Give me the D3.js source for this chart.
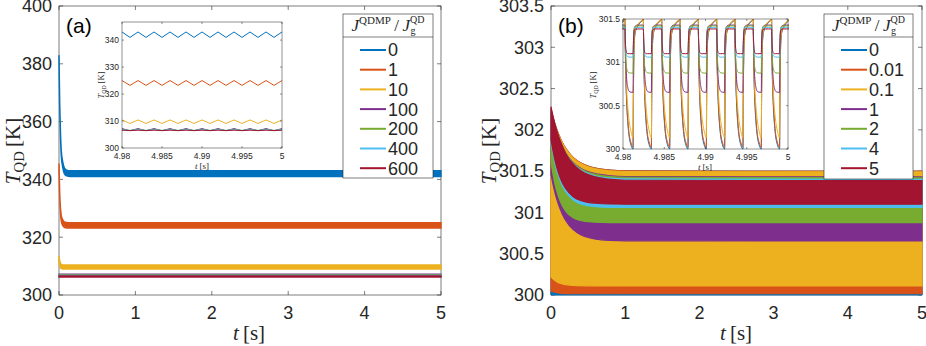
<!DOCTYPE html>
<html><head><meta charset="utf-8">
<script src="https://cdn.jsdelivr.net/npm/d3@7"></script>
<style>body{margin:0;background:#fff}svg{display:block}</style>
</head><body><svg id="c" width="926" height="346"></svg>
<script>
// ---------------- DATA ----------------
const seriesA = ["0","1","10","100","200","400","600"];
const seriesB = ["0","0.01","0.1","1","2","4","5"];
const xTicksMain = [0,1,2,3,4,5];
const yTicksA = [300,320,340,360,380,400];
const yTicksB = [300,300.5,301,301.5,302,302.5,303,303.5];
const xTicksInset = [4.98,4.985,4.99,4.995,5];
const xTickLabelsInset = ["4.98","4.985","4.99","4.995","5"];
const yTicksInsetA = [300,310,320,330,340];
const yTicksInsetB = [300,300.5,301,301.5];

// panel (a) main: envelope (min / max) of the fast oscillation
const tA = [0,0.01,0.02,0.03,0.05,0.07,0.1,0.15,5];
const aUpper = [
  [383,366,356,350,346,344,343.2,343,343],
  [345.5,335,330,327.5,326,325.3,325.1,325,325],
  [313.5,311.8,311,310.6,310.4,310.4,310.4,310.4,310.4],
  [307.2,307.2,307.2,307.2,307.2,307.2,307.2,307.2,307.2],
  [306.9,306.9,306.9,306.9,306.9,306.9,306.9,306.9,306.9],
  [306.8,306.8,306.8,306.8,306.8,306.8,306.8,306.8,306.8],
  [306.6,306.6,306.6,306.6,306.6,306.6,306.6,306.6,306.6]
];
const aLower = [
  [381,364,354,348,344,342,341.2,341,341],
  [343.5,333,328,325.5,324,323.4,323.2,323.2,323.2],
  [311.5,310,309.4,309.1,309,309,309,309,309],
  [306.5,306.5,306.5,306.5,306.5,306.5,306.5,306.5,306.5],
  [306.5,306.5,306.5,306.5,306.5,306.5,306.5,306.5,306.5],
  [306.5,306.5,306.5,306.5,306.5,306.5,306.5,306.5,306.5],
  [306.2,306.2,306.2,306.2,306.2,306.2,306.2,306.2,306.2]
];

// panel (a) inset: zig-zag vertices
const insetATimes = [4.980,4.981,4.982,4.983,4.984,4.985,4.986,4.987,4.988,4.989,4.990,4.991,4.992,4.993,4.994,4.995,4.996,4.997,4.998,4.999,5.000];
const insetAValues = [
  [343,341,343,341,343,341,343,341,343,341,343,341,343,341,343,341,343,341,343,341,343],
  [325,323.2,325,323.2,325,323.2,325,323.2,325,323.2,325,323.2,325,323.2,325,323.2,325,323.2,325,323.2,325],
  [310.4,309.1,310.4,309.1,310.4,309.1,310.4,309.1,310.4,309.1,310.4,309.1,310.4,309.1,310.4,309.1,310.4,309.1,310.4,309.1,310.4],
  [307.2,306.4,307.2,306.4,307.2,306.4,307.2,306.4,307.2,306.4,307.2,306.4,307.2,306.4,307.2,306.4,307.2,306.4,307.2,306.4,307.2],
  [306.9,306.5,306.9,306.5,306.9,306.5,306.9,306.5,306.9,306.5,306.9,306.5,306.9,306.5,306.9,306.5,306.9,306.5,306.9,306.5,306.9],
  [306.8,306.5,306.8,306.5,306.8,306.5,306.8,306.5,306.8,306.5,306.8,306.5,306.8,306.5,306.8,306.5,306.8,306.5,306.8,306.5,306.8],
  [306.6,306.45,306.6,306.45,306.6,306.45,306.6,306.45,306.6,306.45,306.6,306.45,306.6,306.45,306.6,306.45,306.6,306.45,306.6,306.45,306.6]
];

// panel (b) main: envelope (min / max)
const tB = [0,0.05,0.1,0.15,0.2,0.3,0.4,0.5,0.6,0.8,1.0,5];
const bUpper = [
  [302.25,302.084,301.955,301.854,301.776,301.667,301.601,301.562,301.538,301.514,301.505,301.5],
  [302.25,302.084,301.955,301.854,301.776,301.667,301.601,301.562,301.538,301.514,301.505,301.5],
  [302.24,302.074,301.945,301.844,301.766,301.657,301.591,301.552,301.528,301.504,301.495,301.49],
  [302.21,302.038,301.903,301.798,301.717,301.604,301.535,301.494,301.469,301.444,301.435,301.43],
  [302.22,302.043,301.906,301.798,301.714,301.598,301.528,301.486,301.46,301.434,301.426,301.42],
  [302.25,302.06,301.92,301.80,301.71,301.59,301.515,301.47,301.44,301.415,301.406,301.40],
  [302.28,302.08,301.93,301.81,301.71,301.585,301.506,301.458,301.43,301.40,301.39,301.385]
];
const bLower = [
  [300.0,300.0,300.0,300.0,300.0,300.0,300.0,300.0,300.0,300.0,300.0,300.0],
  [300.05,300.035,300.025,300.02,300.017,300.015,300.015,300.015,300.015,300.015,300.015,300.015],
  [300.22,300.177,300.15,300.135,300.125,300.116,300.112,300.111,300.11,300.11,300.11,300.11],
  [301.454,301.25,301.098,300.985,300.90,300.791,300.73,300.696,300.677,300.661,300.656,300.654],
  [301.606,301.357,301.194,301.086,301.014,300.936,300.902,300.887,300.881,300.877,300.876,300.876],
  [301.84,301.606,301.442,301.325,301.247,301.151,301.104,301.082,301.071,301.062,301.06,301.06],
  [301.88,301.646,301.48,301.365,301.287,301.19,301.144,301.122,301.111,301.102,301.10,301.10]
];

// panel (b) inset: fall instants of each pulse [s] and one pulse profile per series
const insetBFalls = [4.97803,4.98025,4.98247,4.98469,4.98691,4.98913,4.99135,4.99357,4.99579,4.99801];
const insetBOffsetsMs = [0,0.03,0.1,0.2,0.35,0.5,0.7,0.97,1.01,1.06,1.13,1.25,1.5,1.85,2.17];
const insetBProfiles = [
  [301.50,301.15,300.80,300.52,300.28,300.14,300.05,300.00,300.60,301.02,301.25,301.35,301.41,301.46,301.49],
  [301.50,301.18,300.84,300.56,300.32,300.17,300.08,300.02,300.62,301.04,301.27,301.36,301.42,301.47,301.49],
  [301.49,301.22,300.92,300.68,300.46,300.32,300.21,300.13,300.72,301.10,301.30,301.37,301.43,301.47,301.49],
  [301.43,301.22,300.98,300.80,300.70,300.665,300.656,300.654,301.05,301.30,301.39,301.42,301.43,301.43,301.43],
  [301.42,301.24,301.04,300.93,300.89,300.879,300.876,300.876,301.15,301.34,301.40,301.415,301.42,301.42,301.42],
  [301.40,301.26,301.13,301.08,301.064,301.06,301.06,301.06,301.22,301.35,301.39,301.40,301.40,301.40,301.40],
  [301.385,301.27,301.15,301.11,301.10,301.10,301.10,301.10,301.22,301.33,301.375,301.383,301.385,301.385,301.385]
];

// ---------------- STYLE ----------------
const colors = ["#0072BD","#D95319","#EDB120","#7E2F8E","#77AC30","#4DBEEE","#A2142F"];
const ink = "#262626";
const sans = "'Liberation Sans',Arial,Helvetica,sans-serif";
const serif = "'Liberation Serif','Times New Roman',serif";

const svg = d3.select("#c");
svg.append("rect").attr("width",926).attr("height",346).attr("fill","#fff");

function frame(g, x, y, xt, xl, yt, yl, o){
  const [x0,x1]=x.range(), [yb,yt0]=y.range();
  g.append("rect").attr("x",x0).attr("y",yt0).attr("width",x1-x0).attr("height",yb-yt0)
    .attr("fill","none").attr("stroke",ink).attr("stroke-width",o.sw);
  const tk = g.append("g").attr("stroke",ink).attr("stroke-width",o.sw);
  xt.forEach(v=>{
    tk.append("line").attr("x1",x(v)).attr("x2",x(v)).attr("y1",yb).attr("y2",yb-o.tl);
    tk.append("line").attr("x1",x(v)).attr("x2",x(v)).attr("y1",yt0).attr("y2",yt0+o.tl);
  });
  yt.forEach(v=>{
    tk.append("line").attr("x1",x0).attr("x2",x0+o.tl).attr("y1",y(v)).attr("y2",y(v));
    tk.append("line").attr("x1",x1).attr("x2",x1-o.tl).attr("y1",y(v)).attr("y2",y(v));
  });
  const lab = g.append("g").attr("font-family",sans).attr("font-size",o.fs).attr("fill",ink);
  xt.forEach((v,i)=>lab.append("text").attr("x",x(v)).attr("y",yb+o.xoff).attr("text-anchor","middle").text(xl[i]));
  yt.forEach((v,i)=>lab.append("text").attr("x",x0-o.yoff).attr("y",y(v)).attr("dy","0.35em").attr("text-anchor","end").text(yl[i]));
}
function yLabel(g, x, y, size){
  const t=g.append("text").attr("transform",`translate(${x},${y}) rotate(-90)`).attr("text-anchor","middle")
    .attr("font-family",serif).attr("font-size",size).attr("fill",ink);
  t.append("tspan").attr("font-style","italic").text("T");
  t.append("tspan").attr("font-size",size*0.7).attr("dy",size*0.2).text("QD");
  t.append("tspan").attr("dy",-size*0.2).text("\u2009[K]");
}
function xLabel(g, x, y, size){
  const t=g.append("text").attr("x",x).attr("y",y).attr("text-anchor","middle")
    .attr("font-family",serif).attr("font-size",size).attr("fill",ink);
  t.append("tspan").attr("font-style","italic").text("t");
  t.append("tspan").text("\u2009[s]");
}
function legend(g, x0, y0, w, h, names){
  g.append("rect").attr("x",x0).attr("y",y0).attr("width",w).attr("height",h)
    .attr("fill","#fff").attr("stroke",ink).attr("stroke-width",0.6);
  g.append("line").attr("x1",x0).attr("x2",x0+w).attr("y1",y0+23).attr("y2",y0+23).attr("stroke",ink).attr("stroke-width",0.6);
  // title J^QDMP / J_g^QD
  const t=g.append("text").attr("y",y0+17).attr("font-family",serif).attr("font-size",17).attr("fill",ink);
  t.append("tspan").attr("font-style","italic").text("J");
  t.append("tspan").attr("font-size",11).attr("dy",-7).text("QDMP");
  t.append("tspan").attr("dy",7).text("\u2009/\u2009");
  t.append("tspan").attr("font-style","italic").text("J");
  const sup=t.append("tspan").attr("font-size",10).attr("dy",-8).text("QD");
  const wT=t.node().getComputedTextLength();
  t.attr("x",x0+w/2-wT/2);
  const sx=sup.node().getStartPositionOfChar(0).x;
  g.append("text").attr("x",sx+0.5).attr("y",y0+20).attr("font-family",serif).attr("font-size",10).attr("fill",ink).text("g");
  names.forEach((n,i)=>{
    const yy=y0+36+i*19.7;
    g.append("line").attr("x1",x0+17).attr("x2",x0+43).attr("y1",yy).attr("y2",yy).attr("stroke",colors[i]).attr("stroke-width",2);
    g.append("text").attr("x",x0+45).attr("y",yy).attr("dy","0.36em").attr("font-family",sans).attr("font-size",18).attr("fill",ink).text(n);
  });
}
let clipId=0;
function clip(g, x, y, pad){
  const id="clip"+(clipId++);
  const [x0,x1]=x.range(), [yb,yt]=y.range();
  svg.append("clipPath").attr("id",id).append("rect").attr("x",x0-pad).attr("y",yt-pad).attr("width",x1-x0+2*pad).attr("height",yb-yt+2*pad);
  return g.append("g").attr("clip-path",`url(#${id})`);
}

const mainOpts={sw:0.6,tl:4,fs:18,xoff:24,yoff:7};
const insetOpts={sw:0.5,tl:2,fs:8.5,xoff:11,yoff:3};

// ---------------- PANEL (a) ----------------
{
  const g=svg.append("g");
  const x=d3.scaleLinear().domain([0,5]).range([59,441]);
  const y=d3.scaleLinear().domain([300,400]).range([295,6]);
  frame(g,x,y,xTicksMain,xTicksMain.map(String),yTicksA,yTicksA.map(String),mainOpts);
  const d=clip(g,x,y,2);
  seriesA.forEach((s,i)=>{
    const pts=tA.map((t,j)=>({t,lo:aLower[i][j],hi:aUpper[i][j]}));
    const area=d3.area().x(p=>x(p.t)).y0(p=>y(p.lo)).y1(p=>y(p.hi)).curve(d3.curveMonotoneX);
    d.append("path").attr("d",area(pts)).attr("fill",colors[i]).attr("stroke",colors[i]).attr("stroke-width",1.4);
  });
  yLabel(g,20,151,21);
  xLabel(g,249,340,21);
  g.append("text").attr("x",66).attr("y",33).attr("font-family",sans).attr("font-size",21).attr("fill","#000").text("(a)");
  // inset
  const xi=d3.scaleLinear().domain([4.98,5]).range([122,282]);
  const yi=d3.scaleLinear().domain([300,346.7]).range([148,22]);
  g.append("rect").attr("x",122).attr("y",22).attr("width",160).attr("height",126).attr("fill","#fff");
  const di=clip(g,xi,yi,0.5);
  seriesA.forEach((s,i)=>{
    const line=d3.line().x((t,j)=>xi(t)).y((t,j)=>yi(insetAValues[i][j]));
    di.append("path").attr("d",line(insetATimes)).attr("fill","none").attr("stroke",colors[i]).attr("stroke-width",1);
  });
  frame(g,xi,yi,xTicksInset,xTickLabelsInset,yTicksInsetA,yTicksInsetA.map(String),insetOpts);
  yLabel(g,104,85,8.5);
  xLabel(g,202,169,9);
  legend(g,343,14,90,164,seriesA);
}

// ---------------- PANEL (b) ----------------
{
  const g=svg.append("g");
  const x=d3.scaleLinear().domain([0,5]).range([551,922]);
  const y=d3.scaleLinear().domain([300,303.5]).range([295,6]);
  frame(g,x,y,xTicksMain,xTicksMain.map(String),yTicksB,yTicksB.map(String),mainOpts);
  const d=clip(g,x,y,2);
  seriesB.forEach((s,i)=>{
    const pts=tB.map((t,j)=>({t,lo:bLower[i][j],hi:bUpper[i][j]}));
    const area=d3.area().x(p=>x(p.t)).y0(p=>y(p.lo)).y1(p=>y(p.hi)).curve(d3.curveMonotoneX);
    d.append("path").attr("d",area(pts)).attr("fill",colors[i]).attr("stroke",colors[i]).attr("stroke-width",i===0?0.8:1.2);
  });
  yLabel(g,496,151,21);
  xLabel(g,736,340,21);
  g.append("text").attr("x",558).attr("y",33).attr("font-family",sans).attr("font-size",21).attr("fill","#000").text("(b)");
  // inset
  const xi=d3.scaleLinear().domain([4.98,5]).range([623,788]);
  const yi=d3.scaleLinear().domain([300,301.5]).range([149,19]);
  g.append("rect").attr("x",623).attr("y",19).attr("width",165).attr("height",130).attr("fill","#fff");
  const di=clip(g,xi,yi,1);
  seriesB.forEach((s,i)=>{
    const pts=[];
    insetBFalls.forEach(f=>insetBOffsetsMs.forEach((o,j)=>pts.push([f+o/1000,insetBProfiles[i][j]])));
    const line=d3.line().x(p=>xi(p[0])).y(p=>yi(p[1])).curve(d3.curveMonotoneX);
    di.append("path").attr("d",line(pts)).attr("fill","none").attr("stroke",colors[i]).attr("stroke-width",1);
  });
  frame(g,xi,yi,xTicksInset,xTickLabelsInset,yTicksInsetB,yTicksInsetB.map(String),insetOpts);
  yLabel(g,596,85,8.5);
  xLabel(g,705,170,9);
  legend(g,824,14,89,165,seriesB);
}
</script></body></html>
